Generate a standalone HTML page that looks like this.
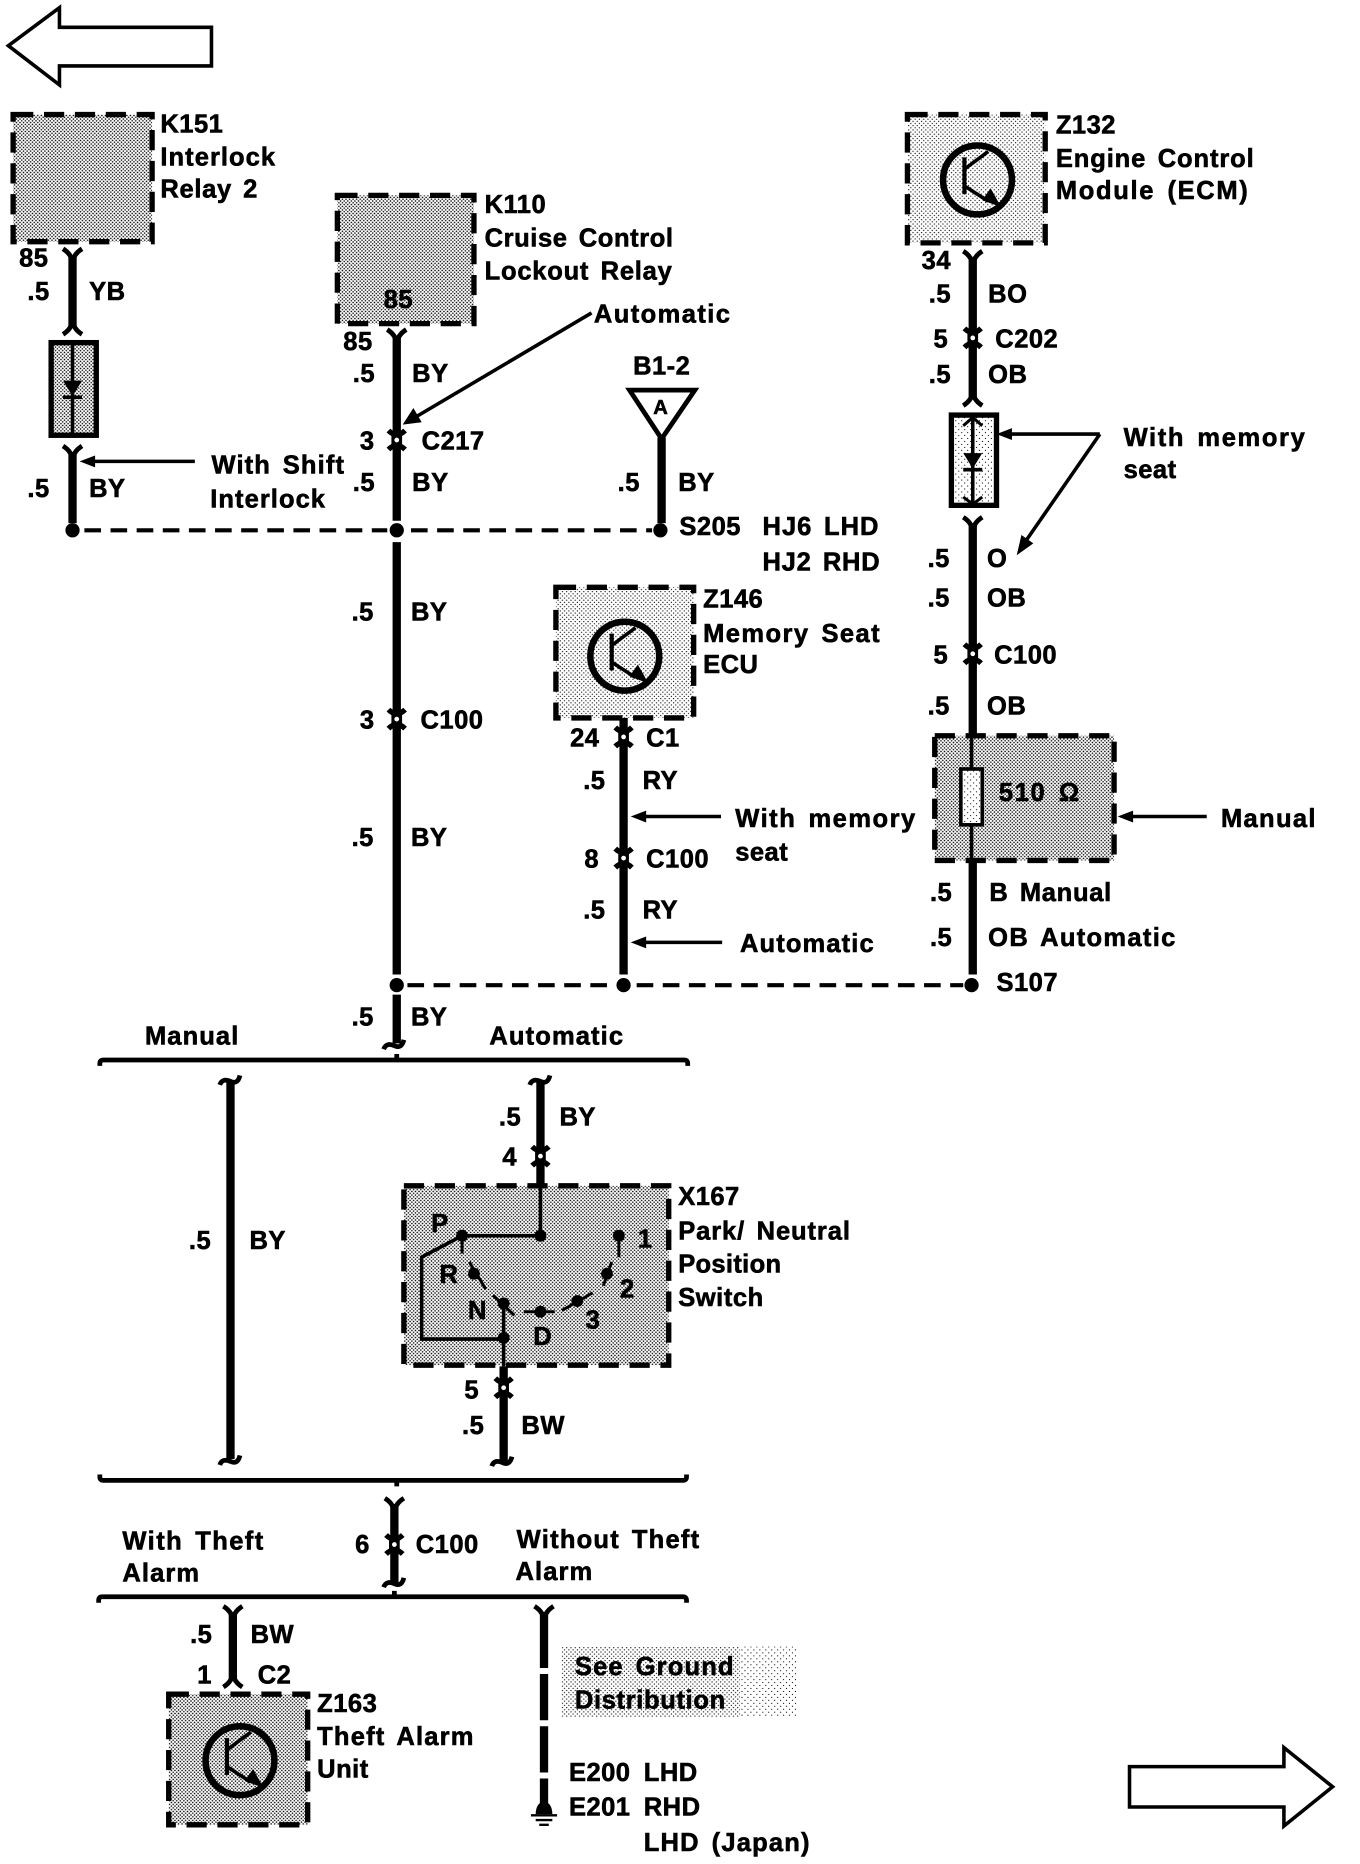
<!DOCTYPE html>
<html><head><meta charset="utf-8"><style>
html,body{margin:0;padding:0;background:#fff}
svg{display:block}
text{font-family:"Liberation Sans",sans-serif;font-weight:bold;font-size:21.5px;letter-spacing:.4px;word-spacing:3px;fill:#000;stroke:#000;stroke-width:.5px}
.w{stroke:#000;stroke-width:7;fill:none}
.t{stroke:#000;stroke-width:3;fill:none}
.d{stroke:#000;stroke-width:3.5;stroke-dasharray:14 8;fill:none}
.b{stroke:#000;stroke-width:4.5;stroke-dasharray:17 9;}
.k{fill:none;stroke:#000;stroke-width:4;stroke-linejoin:round}
</style></head><body>
<svg width="1360" height="1864" viewBox="-1 -0.5 1145 1569.5" xmlns="http://www.w3.org/2000/svg">
<defs>
<pattern id="s" width="3" height="3" patternUnits="userSpaceOnUse"><rect width="3" height="3" fill="#fff"/><circle cx=".75" cy=".75" r=".68"/><circle cx="2.25" cy="2.25" r=".68"/></pattern>
<pattern id="l" width="3.6" height="3.6" patternUnits="userSpaceOnUse"><rect width="3.6" height="3.6" fill="#fff"/><circle cx=".9" cy=".9" r=".52"/><circle cx="2.7" cy="2.7" r=".52"/></pattern>
<pattern id="x" width="5" height="5" patternUnits="userSpaceOnUse"><rect width="5" height="5" fill="#fff"/><circle cx="1.2" cy="1.2" r=".5"/><circle cx="3.7" cy="3.7" r=".5"/></pattern>
<g id="c"><path d="M-7,-8 Q0,-1 7,-8 M-7,8 Q0,1 7,8" fill="none" stroke="#000" stroke-width="4.5"/><rect x="-4.5" y="-7" width="9" height="14"/><circle r="2" fill="#fff"/></g>
<path id="ft" d="M-8,-5 Q0,0 0,8 M8,-5 Q0,0 0,8" fill="none" stroke="#000" stroke-width="4"/>
<path id="fb" d="M-8,5 Q0,0 0,-8 M8,5 Q0,0 0,-8" fill="none" stroke="#000" stroke-width="4"/>
<path id="tl" d="M-9,3 Q-7,-3 0,0 Q6,3 8,-5" fill="none" stroke="#000" stroke-width="4"/>
<g id="tr"><circle r="29" fill="none" stroke="#000" stroke-width="5.5"/><path d="M-11,-19 V12" stroke="#000" stroke-width="3.5"/><path d="M-11,-9 L9,-24 M-11,5 L9,18" stroke="#000" stroke-width="3"/><path d="M20,23 L4,17 L11,7 Z"/></g>
<path id="ah" d="M0,0 L13,-5 L13,5 Z"/>
</defs>
<rect x="-1" y="-1" width="1147" height="1571" fill="#fff"/>

<!-- page arrows -->
<polygon points="6,38 49,6 49,22.5 177,22.5 177,55 49,55 49,71" fill="#fff" stroke="#000" stroke-width="3"/>
<polygon points="950,1487 1080,1487 1080,1471 1121,1504 1080,1537 1080,1521 950,1521" fill="#fff" stroke="#000" stroke-width="3"/>

<!-- boxes -->
<rect x="10" y="96" width="117" height="107" fill="url(#s)" class="b"/>
<rect x="283" y="164" width="115" height="108" fill="url(#s)" class="b"/>
<rect x="763" y="96" width="116" height="108" fill="url(#l)" class="b"/>
<rect x="467" y="494" width="116" height="110" fill="url(#l)" class="b"/>
<rect x="786" y="619" width="151" height="105" fill="url(#s)" class="b"/>
<rect x="339" y="998" width="223" height="151" fill="url(#s)" class="b"/>
<rect x="141" y="1426" width="117" height="110" fill="url(#s)" class="b"/>
<rect x="472" y="1386" width="150" height="59" fill="url(#l)"/>
<rect x="622" y="1386" width="48" height="59" fill="url(#x)"/>

<!-- transistors -->
<use href="#tr" x="822" y="151"/>
<use href="#tr" x="525" y="552"/>
<use href="#tr" x="201" y="1482"/>

<!-- left wire + diode -->
<path class="w" d="M60,216 V274 M60,382 V440"/>
<use href="#ft" x="60" y="214"/><use href="#fb" x="60" y="276"/><use href="#ft" x="60" y="380"/>
<rect x="42" y="288" width="38" height="78" fill="url(#s)" stroke="#000" stroke-width="4.5"/>
<path class="t" d="M60,288 V366"/>
<path d="M52,320 H68 L60,333 Z"/><path d="M52,334 H68" stroke="#000" stroke-width="3"/>
<path class="t" d="M163,388 H75"/><use href="#ah" x="66" y="388"/>

<!-- main wire 333 -->
<path class="w" d="M333,284 V438 M333,456 V820 M333,837 V878"/>
<use href="#ft" x="333" y="282"/>
<use href="#c" x="333" y="370"/><use href="#c" x="333" y="605"/>
<use href="#tl" x="331" y="880"/>
<path class="t" d="M497,263 L350,350"/><path d="M338,357 L347,343 L354,355 Z"/>

<!-- antenna -->
<polygon points="529,328 584,328 556,369" fill="#fff" stroke="#000" stroke-width="4"/>
<path class="w" d="M556,368 V440"/>

<!-- dashed -->
<path class="d" d="M70,446 H325 M345,446 H548"/>
<circle cx="60" cy="446" r="6"/><circle cx="333" cy="446" r="6"/><circle cx="555" cy="446" r="6"/>
<path class="d" d="M342,829 H515 M535,829 H810"/>
<circle cx="333" cy="829" r="6"/><circle cx="524" cy="829" r="6"/><circle cx="817" cy="829" r="6"/>

<!-- wire 524 -->
<path class="w" d="M524,604 V820"/>
<use href="#c" x="524" y="620"/><use href="#c" x="524" y="722"/>
<path class="t" d="M606,687 H542"/><use href="#ah" x="530" y="687"/>
<path class="t" d="M607,793 H542"/><use href="#ah" x="530" y="793"/>

<!-- wire 818 -->
<path class="w" d="M818,218 V334 M818,442 V619 M818,724 V820"/>
<use href="#ft" x="818" y="216"/><use href="#c" x="818" y="284"/><use href="#fb" x="818" y="336"/>
<rect x="800" y="349" width="38" height="76" fill="url(#x)" stroke="#000" stroke-width="4.5"/>
<path class="t" d="M818,349 V425" stroke-width="2"/>
<path d="M810,381 H826 L818,394 Z"/><path d="M810,395 H826" stroke="#000" stroke-width="3"/>
<path d="M810,358 L818,351 L826,358 M810,418 L818,424 L826,418" fill="none" stroke="#000" stroke-width="2.5"/>
<use href="#ft" x="818" y="440"/><use href="#c" x="818" y="550"/>
<path class="t" d="M925,365 H850 M925,365 L862,456"/>
<use href="#ah" x="838" y="365"/>
<path d="M855,467 L859,450 L869,457 Z"/>
<path d="M817,619 V724" stroke="#000" stroke-width="3"/>
<rect x="808" y="647" width="18" height="47" fill="url(#x)" stroke="#000" stroke-width="3"/>
<path class="t" d="M1015,687 H952"/><use href="#ah" x="940" y="687"/>

<!-- brackets -->
<path class="k" d="M83,897 V895 Q83,892 86,892 H575 Q578,892 578,895 V897 M333,892 V887"/>
<path class="k" d="M83,1241 V1243 Q83,1246 86,1246 H574 Q577,1246 577,1243 V1241 M333,1246 V1251"/>
<path class="k" d="M82,1349 V1347 Q82,1344 85,1344 H574 Q577,1344 577,1347 V1349 M331,1344 V1339"/>

<!-- wire 193 -->
<path class="w" d="M193,910 V1228"/>
<use href="#tl" x="193" y="910"/><use href="#tl" x="193" y="1230"/>

<!-- switch -->
<path class="w" d="M454,910 V998" stroke-width="6"/>
<use href="#tl" x="454" y="910"/><use href="#c" x="454" y="973"/>
<path class="t" d="M454,998 V1040 H388 L354,1058 V1127 H423 M423,1095 V1150"/>
<g fill="#000">
<circle cx="454" cy="1040" r="5"/><circle cx="388" cy="1040" r="5"/><circle cx="398" cy="1072" r="5"/><circle cx="423" cy="1097" r="5"/><circle cx="454" cy="1104" r="5"/><circle cx="485" cy="1095" r="5"/><circle cx="510" cy="1072" r="5"/><circle cx="520" cy="1040" r="5"/><circle cx="423" cy="1126" r="5"/>
</g>
<path d="M388,1040 V1055 M394,1062 L408,1085 M414,1090 L432,1107 M440,1104 H466 M472,1103 L498,1088 M507,1082 L514,1062 M520,1040 V1058" stroke="#000" stroke-width="2.5" fill="none"/>
<path class="w" d="M423,1150 V1230"/>
<use href="#c" x="423" y="1168"/><use href="#tl" x="422" y="1231"/>

<!-- c100 theft -->
<path class="w" d="M331,1266 V1332"/>
<use href="#ft" x="331" y="1266"/><use href="#c" x="331" y="1300"/><use href="#tl" x="331" y="1333"/>

<!-- z163 wire -->
<path class="w" d="M195,1357 V1413"/>
<use href="#ft" x="195" y="1357"/><use href="#fb" x="195" y="1415"/>

<!-- ground wire -->
<path class="w" d="M457,1357 V1404 M457,1409 V1448 M457,1453 V1492 M457,1497 V1527" stroke-width="6"/>
<use href="#ft" x="457" y="1357"/>
<path d="M450,1527 Q450,1518 457,1516 Q464,1518 464,1527 Z"/><path d="M446,1528 H468 M450,1532 H464 M453,1536 H461" stroke="#000" stroke-width="2"/>

<!-- labels -->
<text x="134" y="111">K151</text><text x="134" y="139" textLength="97">Interlock</text><text x="134" y="166" textLength="82">Relay 2</text>
<text x="15" y="224">85</text><text x="22" y="252">.5</text><text x="74" y="252">YB</text>
<text x="22" y="418">.5</text><text x="74" y="418">BY</text>
<text x="177" y="398" textLength="112">With Shift</text><text x="176" y="427" textLength="97">Interlock</text>
<text x="407" y="179">K110</text><text x="407" y="207" textLength="159">Cruise Control</text><text x="407" y="235" textLength="158">Lockout Relay</text>
<text x="322" y="259">85</text><text x="288" y="294">85</text>
<text x="296" y="321">.5</text><text x="346" y="321">BY</text>
<text x="499" y="271" textLength="115">Automatic</text>
<text x="302" y="378">3</text><text x="354" y="378">C217</text>
<text x="296" y="413">.5</text><text x="346" y="413">BY</text>
<text x="532" y="315">B1-2</text>
<text x="549" y="348" style="font-size:17px">A</text>
<text x="519" y="413">.5</text><text x="570" y="413">BY</text>
<text x="571" y="450">S205</text><text x="641" y="450" textLength="98">HJ6 LHD</text><text x="641" y="480" textLength="99">HJ2 RHD</text>
<text x="295" y="522">.5</text><text x="345" y="522">BY</text>
<text x="302" y="613">3</text><text x="353" y="613">C100</text>
<text x="295" y="712">.5</text><text x="345" y="712">BY</text>
<text x="591" y="511">Z146</text><text x="591" y="540" textLength="149">Memory Seat</text><text x="591" y="566">ECU</text>
<text x="479" y="628">24</text><text x="543" y="628">C1</text>
<text x="490" y="664">.5</text><text x="540" y="664">RY</text>
<text x="618" y="696" textLength="152">With memory</text><text x="618" y="724">seat</text>
<text x="491" y="730">8</text><text x="543" y="730">C100</text>
<text x="490" y="773">.5</text><text x="540" y="773">RY</text>
<text x="622" y="801" textLength="113">Automatic</text>
<text x="888" y="112">Z132</text><text x="888" y="140" textLength="167">Engine Control</text><text x="888" y="167" textLength="162">Module (ECM)</text>
<text x="775" y="226">34</text><text x="781" y="254">.5</text><text x="831" y="254">BO</text>
<text x="785" y="292">5</text><text x="837" y="292">C202</text>
<text x="781" y="322">.5</text><text x="831" y="322">OB</text>
<text x="945" y="375" textLength="153">With memory</text><text x="945" y="402">seat</text>
<text x="780" y="477">.5</text><text x="830" y="477">O</text>
<text x="780" y="510">.5</text><text x="830" y="510">OB</text>
<text x="785" y="558">5</text><text x="836" y="558">C100</text>
<text x="780" y="601">.5</text><text x="830" y="601">OB</text>
<text x="840" y="674" textLength="68">510 Ω</text>
<text x="1027" y="696" textLength="80">Manual</text>
<text x="782" y="758">.5</text><text x="832" y="758" textLength="103">B Manual</text>
<text x="782" y="796">.5</text><text x="831" y="796" textLength="158">OB Automatic</text>
<text x="838" y="834">S107</text>
<text x="295" y="863">.5</text><text x="345" y="863">BY</text>
<text x="121" y="879" textLength="79">Manual</text><text x="411" y="879" textLength="113">Automatic</text>
<text x="158" y="1051">.5</text><text x="209" y="1051">BY</text>
<text x="419" y="947">.5</text><text x="470" y="947">BY</text><text x="422" y="981">4</text>
<text x="570" y="1014">X167</text><text x="570" y="1043" textLength="145">Park/ Neutral</text><text x="570" y="1071" textLength="87">Position</text><text x="570" y="1099" textLength="72">Switch</text>
<text x="362" y="1037">P</text><text x="369" y="1080">R</text><text x="393" y="1110">N</text><text x="448" y="1132">D</text><text x="492" y="1118">3</text><text x="521" y="1092">2</text><text x="536" y="1050">1</text>
<text x="390" y="1177">5</text><text x="388" y="1207">.5</text><text x="438" y="1207">BW</text>
<text x="102" y="1304" textLength="119">With Theft</text><text x="102" y="1331" textLength="65">Alarm</text>
<text x="298" y="1307">6</text><text x="349" y="1307">C100</text>
<text x="434" y="1303" textLength="154">Without Theft</text><text x="433" y="1330" textLength="65">Alarm</text>
<text x="159" y="1383">.5</text><text x="210" y="1383">BW</text>
<text x="165" y="1417">1</text><text x="216" y="1417">C2</text>
<text x="266" y="1441">Z163</text><text x="266" y="1469" textLength="132">Theft Alarm</text><text x="266" y="1496">Unit</text>
<text x="483" y="1410" textLength="134">See Ground</text><text x="483" y="1438" textLength="127">Distribution</text>
<text x="478" y="1499">E200</text><text x="541" y="1499">LHD</text>
<text x="478" y="1528">E201</text><text x="541" y="1528">RHD</text>
<text x="541" y="1558" textLength="140">LHD (Japan)</text>
</svg>
</body></html>
